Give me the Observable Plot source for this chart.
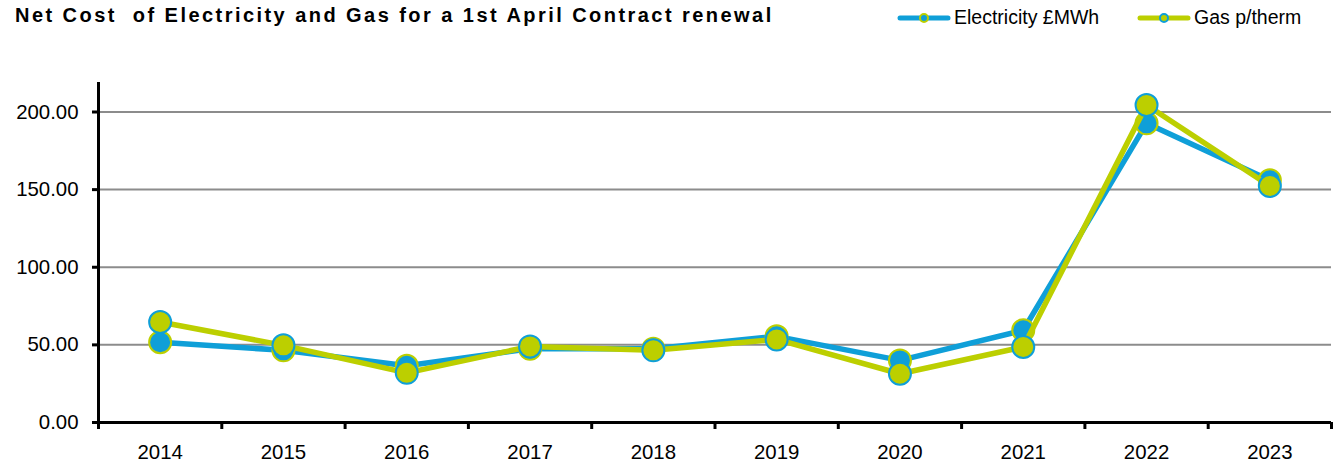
<!DOCTYPE html>
<html>
<head>
<meta charset="utf-8">
<script src="https://cdn.jsdelivr.net/npm/d3@7"></script>
<script src="https://cdn.jsdelivr.net/npm/@observablehq/plot@0.6"></script>
<style>
  body { margin: 0; background: #fff; font-family: "Liberation Sans", Arial, sans-serif; }
  #wrap { width: 1338px; height: 464px; position: relative; }
  #header { height: 40px; position: relative; }
  #title { position: absolute; left: 15px; top: 4px; font-weight: bold; font-size: 20px; letter-spacing: 2.45px; color: #000; white-space: pre; }
  .leg { position: absolute; top: 6px; display: flex; align-items: center; font-size: 19.5px; color: #000; white-space: pre; }
  .leg svg { margin-right: 3px; }
</style>
</head>
<body>
<div id="wrap">
  <div id="header">
    <div id="title"></div>
    <div id="legend"></div>
  </div>
  <div id="chart"></div>
</div>
<script>
const title = "Net Cost  of Electricity and Gas for a 1st April Contract renewal";
const years = [2014, 2015, 2016, 2017, 2018, 2019, 2020, 2021, 2022, 2023];
const electricity = [51.7, 46.5, 36.5, 47.5, 47.5, 55.5, 40, 59.4, 192.7, 156];
const gas = [64.7, 49.7, 32.0, 49.0, 46.5, 53.5, 31.4, 48.6, 204.5, 152.3];
const yTicks = [0, 50, 100, 150, 200];
const seriesNames = ["Electricity £MWh", "Gas p/therm"];
const blue = "#0f9fd8";
const green = "#bccf00";

document.getElementById("title").textContent = title;

// legend
const legend = document.getElementById("legend");
const legendItems = [
  {name: seriesNames[0], line: blue, ring: green, fill: blue, left: 897},
  {name: seriesNames[1], line: green, ring: blue, fill: green, left: 1137}
];
for (const it of legendItems) {
  const d = document.createElement("div");
  d.className = "leg";
  d.style.left = it.left + "px";
  d.innerHTML = `<svg width="54" height="14"><line x1="3" x2="51" y1="7" y2="7" stroke="${it.line}" stroke-width="5" stroke-linecap="round"/><circle cx="27" cy="7" r="4" fill="${it.fill}" stroke="${it.ring}" stroke-width="2"/></svg><span>${it.name}</span>`;
  legend.appendChild(d);
}

const elecData = years.map((y, i) => ({year: y, value: electricity[i]}));
const gasData = years.map((y, i) => ({year: y, value: gas[i]}));
const bounds = years.map(y => y - 0.5).concat([years[years.length - 1] + 0.5]);

const plot = Plot.plot({
  width: 1338,
  height: 424,
  marginLeft: 98,
  marginRight: 7,
  marginTop: 42,
  marginBottom: 42,
  style: {fontFamily: "'Liberation Sans', Arial, sans-serif", fontSize: "20.4px", color: "#000", background: "#fff"},
  x: {domain: [bounds[0], bounds[bounds.length - 1]]},
  y: {domain: [0, 219]},
  marks: [
    Plot.ruleY(yTicks.filter(d => d > 0), {stroke: "#8c8c8c", strokeWidth: 2, strokeOpacity: 1}),
    Plot.axisY({ticks: yTicks, tickFormat: d => d.toFixed(2), tickSize: 6, tickPadding: 14, stroke: "#000", strokeWidth: 3, strokeOpacity: 1, label: null, fill: "#000"}),
    Plot.axisX({ticks: years, tickFormat: d => String(d), tickSize: 0, tickPadding: 22, label: null, fill: "#000"}),
    Plot.axisX({ticks: bounds, tickFormat: () => "", tickSize: 7, stroke: "#000", strokeWidth: 3, strokeOpacity: 1, label: null}),
    Plot.ruleX([bounds[0]], {stroke: "#000", strokeWidth: 3}),
    Plot.ruleY([0], {stroke: "#000", strokeWidth: 3}),
    Plot.line(elecData, {x: "year", y: "value", stroke: blue, strokeWidth: 5.5}),
    Plot.dot(elecData, {x: "year", y: "value", r: 11, fill: blue, stroke: green, strokeWidth: 2}),
    Plot.line(gasData, {x: "year", y: "value", stroke: green, strokeWidth: 5.5}),
    Plot.dot(gasData, {x: "year", y: "value", r: 11, fill: green, stroke: blue, strokeWidth: 2})
  ]
});
document.getElementById("chart").appendChild(plot);
</script>
</body>
</html>
